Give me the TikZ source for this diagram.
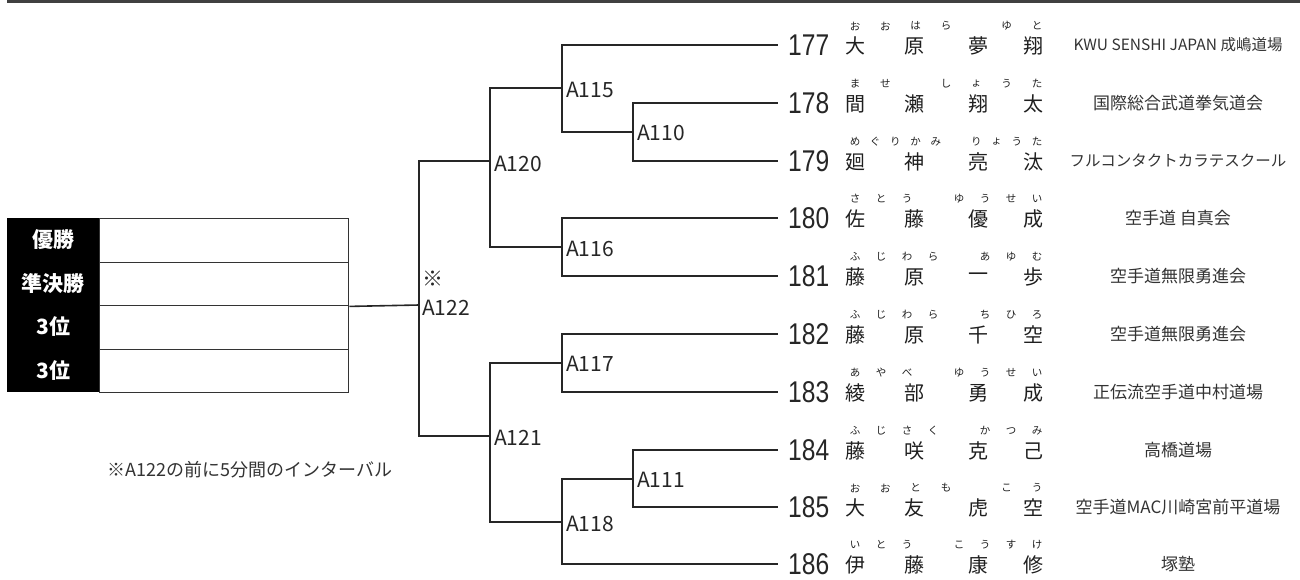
\documentclass[tikz,border=0pt]{standalone}
\usepackage{fontspec}
\setmainfont{Noto Sans CJK JP}
\newfontfamily\numfont[FakeStretch=0.82]{Liberation Sans}
\newcommand{\orgsmall}{\fontsize{15.5}{15.5}\selectfont}
\newcommand{\furirow}[4]{%
  \foreach \c [count=\i] in {#3} {\xdef\furia{\i}}%
  \foreach \c [count=\i] in {#4} {\xdef\furib{\i}}%
  \pgfmathsetmacro\furistep{182/(\furia+\furib)}%
  \foreach \c [count=\i] in {#3} {\node[furi] (f#1s\i) at ({855+(\i-1)*\furistep},#2-19) {\c};}%
  \foreach \c [count=\i] in {#4} {\node[furi] (f#1g\i) at ({855+(\furia+\i)*\furistep},#2-19) {\c};}%
}
\newcommand{\player}[9]{%
  \node[num] (n#1) at (778,#2) {#1};
  \node[kj] (k#1a) at (855,#2+1) {#3};
  \node[kj] (k#1b) at (914,#2+1) {#4};
  \node[kj] (k#1c) at (978,#2+1) {#5};
  \node[kj] (k#1d) at (1033,#2+1) {#6};
  \furirow{#1}{#2}{#7}{#8}
  \node[org] (o#1) at (1178,#2) {#9};
}
\begin{document}
\begin{tikzpicture}[x=1pt,y=-1pt,
  br/.style={draw=black!85, line width=1.6pt},
  mlabel/.style={anchor=west, inner sep=0pt, font=\fontsize{21}{21}\selectfont, text=black!85},
  num/.style={anchor=west, inner xsep=10pt, inner ysep=0pt, font=\numfont\fontsize{30}{30}\selectfont, text=black!85},
  kj/.style={inner sep=0pt, font=\fontsize{20}{20}\selectfont, text=black!88},
  furi/.style={inner sep=0pt, font=\fontsize{10.5}{10.5}\selectfont, text=black!88},
  org/.style={inner sep=0pt, font=\fontsize{17}{17}\selectfont, text=black!80},
  cell/.style={draw=black!80, line width=1.4pt, minimum width=249pt, minimum height=43.5pt, inner sep=0pt, anchor=north west},
  head/.style={fill=black, minimum width=92pt, minimum height=43.5pt, inner sep=0pt, anchor=north west, text=white, font=\fontsize{21}{21}\selectfont\bfseries},
  note/.style={inner sep=0pt, font=\fontsize{18}{18}\selectfont, text=black!80}
]
\useasboundingbox (0,0) rectangle (1300,579);
\fill[black!75] (7,0) rectangle (1300,3);

% result table
\node[cell] (c1) at (99,218) {};
\node[cell] (c2) at (99,261.5) {};
\node[cell] (c3) at (99,305) {};
\node[cell] (c4) at (99,348.5) {};
\node[head] (h1) at (7,218) {優勝};
\node[head] (h2) at (7,261.5) {準決勝};
\node[head] (h3) at (7,305) {3位};
\node[head] (h4) at (7,348.5) {3位};

% players
\player{177}{45}{大}{原}{夢}{翔}{お,お,は,ら}{ゆ,と}{\orgsmall KWU SENSHI JAPAN 成嶋道場}
\player{178}{103}{間}{瀬}{翔}{太}{ま,せ}{し,ょ,う,た}{国際総合武道拳気道会}
\player{179}{161}{廻}{神}{亮}{汰}{め,ぐ,り,か,み}{り,ょ,う,た}{\orgsmall フルコンタクトカラテスクール}
\player{180}{218}{佐}{藤}{優}{成}{さ,と,う}{ゆ,う,せ,い}{空手道 自真会}
\player{181}{276}{藤}{原}{一}{歩}{ふ,じ,わ,ら}{あ,ゆ,む}{空手道無限勇進会}
\player{182}{334}{藤}{原}{千}{空}{ふ,じ,わ,ら}{ち,ひ,ろ}{空手道無限勇進会}
\player{183}{392}{綾}{部}{勇}{成}{あ,や,べ}{ゆ,う,せ,い}{正伝流空手道中村道場}
\player{184}{450}{藤}{咲}{克}{己}{ふ,じ,さ,く}{か,つ,み}{高橋道場}
\player{185}{507}{大}{友}{虎}{空}{お,お,と,も}{こ,う}{空手道MAC川崎宮前平道場}
\player{186}{564}{伊}{藤}{康}{修}{い,と,う}{こ,う,す,け}{塚塾}

% match junctions
\coordinate (A110) at (633,132);
\coordinate (A115) at (562,88);
\coordinate (A116) at (562,247);
\coordinate (A120) at (490,161);
\coordinate (A117) at (562,363);
\coordinate (A111) at (633,479);
\coordinate (A118) at (562,522);
\coordinate (A121) at (490,436);
\coordinate (A122) at (419,305);

% bracket lines
\draw[br] (A110) |- (n178.west);
\draw[br] (A110) |- (n179.west);
\draw[br] (A115) |- (n177.west);
\draw[br] (A115) |- (A110);
\draw[br] (A116) |- (n180.west);
\draw[br] (A116) |- (n181.west);
\draw[br] (A120) |- (A115);
\draw[br] (A120) |- (A116);
\draw[br] (A117) |- (n182.west);
\draw[br] (A117) |- (n183.west);
\draw[br] (A111) |- (n184.west);
\draw[br] (A111) |- (n185.west);
\draw[br] (A118) |- (A111);
\draw[br] (A118) |- (n186.west);
\draw[br] (A121) |- (A117);
\draw[br] (A121) |- (A118);
\draw[br] (A122) |- (A120);
\draw[br] (A122) |- (A121);
\draw[br] (A122) -- (c2.south east);

% match labels
\node[mlabel] (L115) at (566,90) {A115};
\node[mlabel] (L110) at (637,133) {A110};
\node[mlabel] (L120) at (494,164) {A120};
\node[mlabel] (L116) at (566,249) {A116};
\node[mlabel] (Lmark) at (422,279) {※};
\node[mlabel] (L122) at (422,308) {A122};
\node[mlabel] (L117) at (566,364) {A117};
\node[mlabel] (L121) at (494,438) {A121};
\node[mlabel] (L111) at (637,480) {A111};
\node[mlabel] (L118) at (566,524) {A118};

\node[note] (nt) at (250,470) {※A122の前に5分間のインターバル};
\end{tikzpicture}
\end{document}
